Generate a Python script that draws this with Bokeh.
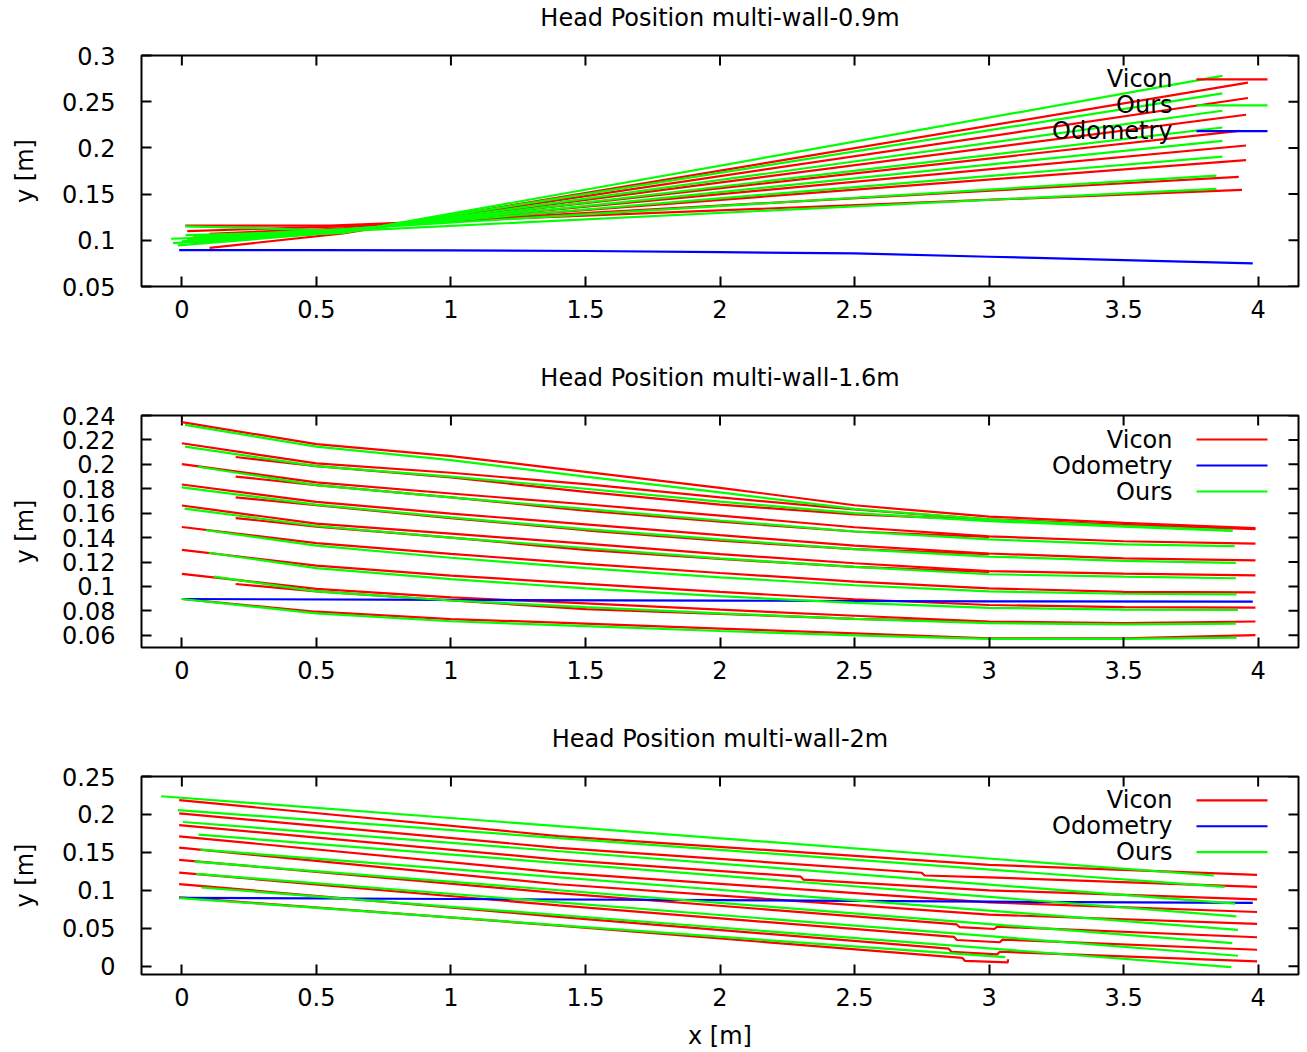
from bokeh.plotting import figure
from bokeh.models import FixedTicker, Label, Range1d, LinearAxis
from bokeh.layouts import column
from bokeh.embed import file_html
from bokeh.resources import INLINE

FONT = "DejaVu Sans"
FS = "24px"
RED, GREEN, BLUE = "#ff0000", "#00ff00", "#0000ff"

# ---------------- shared x axis ----------------
x_limits = (-0.15, 4.15)
x_ticks = [0, 0.5, 1, 1.5, 2, 2.5, 3, 3.5, 4]
x_tick_labels = ["0", "0.5", "1", "1.5", "2", "2.5", "3", "3.5", "4"]

# ---------------- panel 1: multi-wall-0.9m ----------------
p1_title = "Head Position multi-wall-0.9m"
p1_y_limits = (0.05, 0.3)
p1_y_ticks = [0.05, 0.1, 0.15, 0.2, 0.25, 0.3]
p1_y_tick_labels = ["0.05", "0.1", "0.15", "0.2", "0.25", "0.3"]

p1_vicon_x = [
    [0.103, 0.60, 3.962],
    [0.030, 0.60, 3.962],
    [0.050, 0.60, 3.955],
    [0.103, 0.40, 0.60, 3.930],
    [0.040, 0.60, 3.955],
    [0.060, 0.60, 3.955],
    [0.020, 0.60, 3.928],
    [0.013, 0.55, 3.940],
]
p1_vicon_y = [
    [0.0919, 0.1075, 0.2706],
    [0.0980, 0.1090, 0.2540],
    [0.1000, 0.1100, 0.2359],
    [0.1071, 0.1108, 0.1112, 0.2185],
    [0.1030, 0.1120, 0.2026],
    [0.1050, 0.1130, 0.1867],
    [0.1100, 0.1150, 0.1686],
    [0.1158, 0.1158, 0.1545],
]
p1_ours_x = [
    [-0.040, 0.60, 3.867],
    [-0.033, 0.60, 3.867],
    [-0.015, 0.60, 3.867],
    [0.014, 0.60, 3.867],
    [0.000, 0.60, 3.867],
    [0.020, 0.60, 3.867],
    [0.050, 0.60, 3.845],
    [0.013, 0.30, 0.60, 3.845],
]
p1_ours_y = [
    [0.1017, 0.1080, 0.2779],
    [0.0970, 0.1085, 0.2590],
    [0.0945, 0.1090, 0.2402],
    [0.1057, 0.1100, 0.2221],
    [0.0990, 0.1105, 0.2077],
    [0.1010, 0.1115, 0.1906],
    [0.1040, 0.1120, 0.1700],
    [0.1150, 0.1130, 0.1100, 0.1556],
]
p1_odom_x = [-0.01, 0.5, 1.0, 1.5, 2.0, 2.5, 3.0, 3.5, 3.98]
p1_odom_y = [0.0894, 0.0894, 0.0892, 0.0884, 0.0872, 0.0858, 0.0822, 0.0786, 0.0750]

# ---------------- panel 2: multi-wall-1.6m ----------------
p2_title = "Head Position multi-wall-1.6m"
p2_y_limits = (0.05, 0.24)
p2_y_ticks = [0.06, 0.08, 0.1, 0.12, 0.14, 0.16, 0.18, 0.2, 0.22, 0.24]
p2_y_tick_labels = ["0.06", "0.08", "0.1", "0.12", "0.14", "0.16", "0.18", "0.2", "0.22", "0.24"]

p2_vicon_x = [0.0, 0.5, 1.0, 1.5, 2.0, 2.5, 3.0, 3.5, 3.99]
p2_vicon_y = [
    [0.2346, 0.2165, 0.2068, 0.1939, 0.1808, 0.1665, 0.1572, 0.1520, 0.1478],
    [0.2173, 0.2008, 0.1931, 0.1838, 0.1730, 0.1630, 0.1550, 0.1505, 0.1470],
    [0.2002, 0.1852, 0.1761, 0.1673, 0.1580, 0.1485, 0.1410, 0.1370, 0.1350],
    [0.1835, 0.1692, 0.1597, 0.1509, 0.1420, 0.1335, 0.1270, 0.1230, 0.1213],
    [0.1663, 0.1514, 0.1432, 0.1350, 0.1265, 0.1190, 0.1125, 0.1105, 0.1091],
    [0.1487, 0.1355, 0.1267, 0.1185, 0.1110, 0.1040, 0.0985, 0.0955, 0.0951],
    [0.1300, 0.1171, 0.1089, 0.1021, 0.0955, 0.0895, 0.0848, 0.0830, 0.0826],
    [0.1103, 0.0980, 0.0911, 0.0861, 0.0810, 0.0760, 0.0712, 0.0700, 0.0713],
    [0.0897, 0.0793, 0.0733, 0.0696, 0.0655, 0.0615, 0.0575, 0.0575, 0.0601],
]
# second Vicon traces that split off and re-join (runs 2-5 and 8)
p2_vicon2_x = [0.2, 0.5, 1.0, 1.5, 2.0, 2.5, 3.0]
p2_vicon2_y = [
    [0.2060, 0.1985, 0.1893, 0.1775, 0.1670, 0.1590, 0.1545],
    [0.1900, 0.1830, 0.1730, 0.1620, 0.1530, 0.1450, 0.1405],
    [0.1730, 0.1665, 0.1560, 0.1460, 0.1375, 0.1305, 0.1265],
    [0.1560, 0.1490, 0.1400, 0.1300, 0.1225, 0.1160, 0.1120],
    [0.1020, 0.0960, 0.0885, 0.0815, 0.0775, 0.0735, 0.0708],
]
p2_ours_x0 = [0.012, 0.012, 0.060, 0.000, 0.010, 0.090, 0.100, 0.120, 0.000]
p2_ours_x1 = [3.905, 3.905, 3.913, 3.917, 3.917, 3.920, 3.925, 3.917, 3.920]
p2_ours_xk = [0.5, 1.0, 1.5, 2.0, 2.5, 3.0, 3.5]
p2_ours_y = [
    [0.2323, 0.2145, 0.2035, 0.1900, 0.1770, 0.1635, 0.1550, 0.1495, 0.1459],
    [0.2145, 0.1985, 0.1900, 0.1800, 0.1695, 0.1600, 0.1535, 0.1490, 0.1455],
    [0.1980, 0.1830, 0.1730, 0.1635, 0.1540, 0.1450, 0.1385, 0.1345, 0.1330],
    [0.1811, 0.1670, 0.1565, 0.1470, 0.1385, 0.1305, 0.1245, 0.1210, 0.1193],
    [0.1638, 0.1495, 0.1400, 0.1315, 0.1230, 0.1160, 0.1100, 0.1080, 0.1067],
    [0.1460, 0.1335, 0.1235, 0.1150, 0.1075, 0.1010, 0.0960, 0.0940, 0.0935],
    [0.1276, 0.1150, 0.1060, 0.0985, 0.0920, 0.0865, 0.0825, 0.0810, 0.0807],
    [0.1080, 0.0960, 0.0885, 0.0830, 0.0780, 0.0735, 0.0700, 0.0690, 0.0696],
    [0.0897, 0.0780, 0.0715, 0.0675, 0.0635, 0.0600, 0.0570, 0.0570, 0.0581],
]
p2_odom_x = [0.0, 1.0, 2.0, 3.0, 3.98]
p2_odom_y = [0.0897, 0.0890, 0.0884, 0.0878, 0.0875]

# ---------------- panel 3: multi-wall-2m ----------------
p3_title = "Head Position multi-wall-2m"
p3_y_limits = (-0.011, 0.25)
p3_y_ticks = [0, 0.05, 0.1, 0.15, 0.2, 0.25]
p3_y_tick_labels = ["0", "0.05", "0.1", "0.15", "0.2", "0.25"]

p3_vicon_x = [
    [-0.01, 1.4, 3.0, 3.996],
    [-0.01, 1.4, 2.75, 2.76, 3.0, 3.996],
    [-0.01, 1.4, 2.30, 2.31, 3.0, 3.996],
    [-0.01, 1.4, 3.0, 3.996],
    [-0.01, 1.4, 3.0, 3.996],
    [-0.01, 1.4, 2.88, 2.89, 3.02, 3.03, 3.996],
    [-0.01, 1.4, 2.87, 2.88, 3.04, 3.05, 3.996],
    [-0.01, 1.4, 2.85, 2.86, 3.03, 3.04, 3.996],
    [-0.01, 1.4, 2.90, 2.91, 3.07, 3.07],
]
p3_vicon_y = [
    [0.2188, 0.1715, 0.1335, 0.1203],
    [0.2013, 0.1560, 0.1231, 0.1195, 0.1170, 0.1046],
    [0.1860, 0.1405, 0.1180, 0.1140, 0.1000, 0.0880],
    [0.1711, 0.1234, 0.0840, 0.0714],
    [0.1562, 0.1080, 0.0680, 0.0557],
    [0.1400, 0.0963, 0.0550, 0.0515, 0.0490, 0.0520, 0.0381],
    [0.1234, 0.0800, 0.0385, 0.0345, 0.0315, 0.0350, 0.0216],
    [0.1082, 0.0650, 0.0230, 0.0190, 0.0155, 0.0190, 0.0062],
    [0.0906, 0.0535, 0.0110, 0.0070, 0.0050, 0.0090],
]
p3_ours_x = [
    [-0.077, 3.836],
    [-0.015, 3.876],
    [0.004, 3.915],
    [0.062, 3.919],
    [0.069, 3.925],
    [0.047, 3.904],
    [0.053, 3.925],
    [0.072, 3.900],
    [-0.009, 3.060],
]
p3_ours_y = [
    [0.2240, 0.1195],
    [0.2057, 0.1046],
    [0.1900, 0.0823],
    [0.1733, 0.0657],
    [0.1536, 0.0478],
    [0.1378, 0.0303],
    [0.1217, 0.0137],
    [0.1037, -0.0013],
    [0.0898, 0.0118],
]
p3_odom_x = [-0.01, 1.0, 2.0, 3.0, 3.98]
p3_odom_y = [0.0900, 0.0885, 0.0870, 0.0850, 0.0833]

# ---------------- layout constants ----------------
WIDTH = 1300
B_LEFT, B_RIGHT = 141, 2
FRAME_W = WIDTH - B_LEFT - B_RIGHT
TICK_LEN = 10
LW = 2.2
TITLE_GAP = 24  # empty band between the frame and the title text


def style_axis(ax, ticks, labels):
    ax.ticker = FixedTicker(ticks=ticks)
    ax.major_label_overrides = {t: l for t, l in zip(ticks, labels)}
    ax.major_tick_in = TICK_LEN
    ax.major_tick_out = 0
    ax.minor_tick_in = 0
    ax.minor_tick_out = 0
    ax.axis_line_color = None
    ax.major_tick_line_width = 2
    ax.major_tick_line_color = "black"
    ax.major_label_text_font = FONT
    ax.major_label_text_color = "black"
    ax.major_label_text_font_size = FS
    ax.axis_label_text_font = FONT
    ax.axis_label_text_font_size = FS
    ax.axis_label_text_font_style = "normal"
    ax.axis_label_text_color = "black"


def make_panel(title, ylim, yticks, ylabels, height, b_top, b_bottom, series, extra, xlabel):
    frame_h = height - b_top - b_bottom
    p = figure(width=WIDTH, height=height, output_backend="svg", toolbar_location=None,
               title=None,
               x_range=Range1d(*x_limits), y_range=Range1d(*ylim),
               min_border_left=B_LEFT, min_border_right=B_RIGHT,
               min_border_top=b_top, min_border_bottom=b_bottom,
               x_axis_label=xlabel, y_axis_label="y [m]")
    p.grid.visible = False
    p.outline_line_color = "black"
    p.outline_line_width = 2
    p.background_fill_color = "white"
    p.border_fill_color = "white"

    style_axis(p.xaxis[0], x_ticks, x_tick_labels)
    style_axis(p.yaxis[0], yticks, ylabels)
    p.xaxis[0].major_label_standoff = 13
    p.yaxis[0].major_label_standoff = 26
    p.yaxis[0].axis_label_standoff = 20
    p.xaxis[0].axis_label_standoff = 13

    # panel title: label of a tick-less axis above the frame (gnuplot places it 38 px up)
    title_axis = LinearAxis(ticker=FixedTicker(ticks=[]), axis_line_color=None,
                            major_tick_out=0, major_tick_in=0, minor_tick_out=0,
                            minor_tick_in=0, major_label_standoff=0,
                            axis_label=title, axis_label_standoff=TITLE_GAP,
                            axis_label_text_font=FONT, axis_label_text_font_size=FS,
                            axis_label_text_font_style="normal", axis_label_text_color="black")
    p.add_layout(title_axis, "above")

    xppu = FRAME_W / (x_limits[1] - x_limits[0])
    yppu = frame_h / (ylim[1] - ylim[0])

    # mirrored ticks on the top and right border (gnuplot style)
    p.segment(x0=x_ticks, x1=x_ticks, y0=[ylim[1]] * len(x_ticks),
              y1=[ylim[1] - TICK_LEN / yppu] * len(x_ticks), line_color="black", line_width=2)
    p.segment(x0=[x_limits[1]] * len(yticks), x1=[x_limits[1] - TICK_LEN / xppu] * len(yticks),
              y0=yticks, y1=yticks, line_color="black", line_width=2)

    for name, xs, ys, color in series:
        p.multi_line(xs, ys, line_color=color, line_width=LW)
        if name in extra:
            ex, ey = extra[name]
            p.multi_line(ex, ey, line_color=color, line_width=LW)

    # legend (gnuplot style: text right-aligned, sample on the right)
    tx = x_limits[1] - 126 / xppu
    sx0 = x_limits[1] - 102 / xppu
    sx1 = x_limits[1] - 31 / xppu
    for i, (name, xs, ys, color) in enumerate(series):
        yy = ylim[1] - (24 + 26 * i) / yppu
        p.segment(x0=[sx0], y0=[yy], x1=[sx1], y1=[yy], line_color=color, line_width=LW)
        p.add_layout(Label(x=tx, y=yy, text=name, text_align="right", text_baseline="middle",
                           text_font=FONT, text_font_size=FS, text_color="black"))
    return p


p2_ours_xs = [[x0] + p2_ours_xk + [x1] for x0, x1 in zip(p2_ours_x0, p2_ours_x1)]
p2_vicon_xs = [p2_vicon_x for _ in p2_vicon_y]
p2_vicon2_xs = [p2_vicon2_x for _ in p2_vicon2_y]

p1 = make_panel(p1_title, p1_y_limits, p1_y_ticks, p1_y_tick_labels, 340, 54, 54,
                [("Vicon", p1_vicon_x, p1_vicon_y, RED),
                 ("Ours", p1_ours_x, p1_ours_y, GREEN),
                 ("Odometry", [p1_odom_x], [p1_odom_y], BLUE)], {}, None)
p2 = make_panel(p2_title, p2_y_limits, p2_y_ticks, p2_y_tick_labels, 360, 75, 53,
                [("Vicon", p2_vicon_xs, p2_vicon_y, RED),
                 ("Odometry", [p2_odom_x], [p2_odom_y], BLUE),
                 ("Ours", p2_ours_xs, p2_ours_y, GREEN)],
                {"Vicon": (p2_vicon2_xs, p2_vicon2_y)}, None)
p3 = make_panel(p3_title, p3_y_limits, p3_y_ticks, p3_y_tick_labels, 352, 76, 77,
                [("Vicon", p3_vicon_x, p3_vicon_y, RED),
                 ("Odometry", [p3_odom_x], [p3_odom_y], BLUE),
                 ("Ours", p3_ours_x, p3_ours_y, GREEN)], {}, "x [m]")

layout = column(p1, p2, p3, spacing=0)
open("out.html", "w").write(file_html(layout, INLINE))
